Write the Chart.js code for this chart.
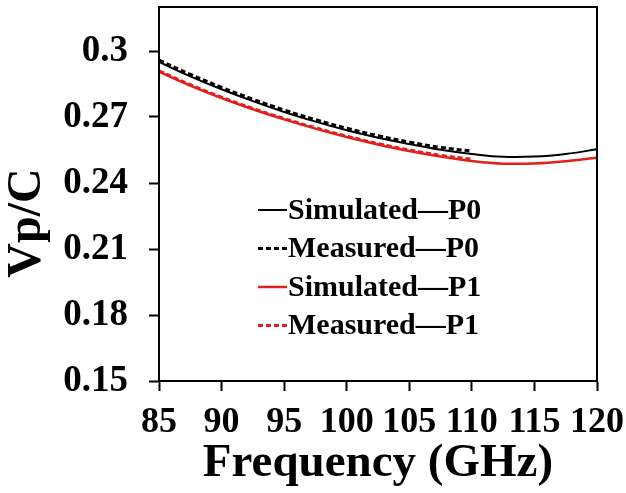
<!DOCTYPE html>
<html>
<head>
<meta charset="utf-8">
<script src="https://cdn.jsdelivr.net/npm/chart.js@4.4.1/dist/chart.umd.min.js"></script>
<style>
  html, body { margin: 0; padding: 0; background: #fff; }
  #wrap { width: 626px; height: 493px; }
</style>
</head>
<body>
<div id="wrap"><canvas id="vpChart" width="626" height="493"></canvas></div>
<script>
// Frequency points (GHz)
const freqSim = [85, 87.5, 90, 92.5, 95, 97.5, 100, 102.5, 105, 107.5, 110, 112.5, 115, 117.5, 120];
const freqMeas = [85, 87.5, 90, 92.5, 95, 97.5, 100, 102.5, 105, 107.5, 110];

// Vp/C values
const simP0 = [0.2950, 0.2885, 0.2826, 0.2772, 0.2723, 0.2679, 0.2640, 0.2606, 0.2577, 0.2551, 0.2532, 0.2519, 0.2520, 0.2532, 0.2553];
const measP0 = [0.2958, 0.2894, 0.2835, 0.2781, 0.2732, 0.2688, 0.2649, 0.2615, 0.2586, 0.2562, 0.2545];
const simP1 = [0.2906, 0.2843, 0.2786, 0.2735, 0.2689, 0.2647, 0.2609, 0.2575, 0.2545, 0.2520, 0.2500, 0.2488, 0.2489, 0.2499, 0.2515];
const measP1 = [0.2910, 0.2847, 0.2790, 0.2739, 0.2693, 0.2651, 0.2613, 0.2579, 0.2550, 0.2526, 0.2508];

// Axis ticks
const xTicks = [85, 90, 95, 100, 105, 110, 115, 120];
const yTicks = [0.15, 0.18, 0.21, 0.24, 0.27, 0.30];

const legendLabels = ['Simulated\u2014P0', 'Measured\u2014P0', 'Simulated\u2014P1', 'Measured\u2014P1'];
const yTitle = 'Vp/C';

const serif = 'Liberation Serif';

function toPoints(xs, ys) {
    return xs.map((x, i) => ({ x: x, y: ys[i] }));
}

// Box around the plot, y title (sits lower than centre) and legend inside the plot
const framePlugin = {
    id: 'frame',
    afterDraw(chart) {
        const { ctx, chartArea } = chart;
        ctx.save();
        ctx.strokeStyle = '#000';
        ctx.lineWidth = 2;
        ctx.strokeRect(chartArea.left, chartArea.top, chartArea.right - chartArea.left, chartArea.bottom - chartArea.top);

        // y axis title
        ctx.save();
        ctx.translate(28, chartArea.top + 216);
        ctx.rotate(-Math.PI / 2);
        ctx.font = 'bold 48px "' + serif + '"';
        ctx.textAlign = 'center';
        ctx.textBaseline = 'middle';
        ctx.fillStyle = '#000';
        ctx.fillText(yTitle, 0, 0);
        ctx.restore();

        // legend
        const x0 = chartArea.left + 99;
        const y0 = chartArea.top + 203;
        ctx.font = 'bold 30px "' + serif + '"';
        ctx.textBaseline = 'middle';
        ctx.textAlign = 'left';
        chart.data.datasets.forEach((ds, row) => {
            const y = y0 + row * 38.5;
            ctx.beginPath();
            ctx.strokeStyle = ds.borderColor;
            ctx.lineWidth = ds.borderWidth;
            ctx.setLineDash(ds.borderDash || []);
            ctx.moveTo(x0, y);
            ctx.lineTo(x0 + 29, y);
            ctx.stroke();
            ctx.setLineDash([]);
            ctx.fillStyle = '#000';
            ctx.fillText(ds.label, x0 + 30, y + 1);
        });
        ctx.restore();
    }
};

const ctx = document.getElementById('vpChart').getContext('2d');
new Chart(ctx, {
    type: 'line',
    data: {
        datasets: [
            {
                label: legendLabels[0],
                data: toPoints(freqSim, simP0),
                borderColor: '#000000',
                borderWidth: 2,
                order: 2
            },
            {
                label: legendLabels[1],
                data: toPoints(freqMeas, measP0),
                borderColor: '#000000',
                borderWidth: 3,
                borderDash: [5, 3],
                order: 1
            },
            {
                label: legendLabels[2],
                data: toPoints(freqSim, simP1),
                borderColor: '#e0201c',
                borderWidth: 2.5,
                order: 2
            },
            {
                label: legendLabels[3],
                data: toPoints(freqMeas, measP1),
                borderColor: '#e0201c',
                borderWidth: 3,
                borderDash: [5, 3],
                order: 0
            }
        ]
    },
    options: {
        responsive: false,
        animation: false,
        layout: { padding: { top: 7, right: 29, left: 0, bottom: 0 } },
        elements: {
            point: { radius: 0 },
            line: { tension: 0.4, fill: false }
        },
        scales: {
            x: {
                type: 'linear',
                min: 85,
                max: 120,
                afterBuildTicks: s => { s.ticks = xTicks.map(v => ({ value: v })); },
                afterFit: s => { s.height = 112; s.paddingLeft = 0; s.paddingRight = 0; },
                border: { color: '#000', width: 2 },
                grid: { drawOnChartArea: false, tickLength: 10, tickColor: '#000', tickWidth: 2 },
                ticks: {
                    color: '#000',
                    padding: 10,
                    maxRotation: 0,
                    autoSkip: false,
                    font: { family: serif, size: 36, weight: 'bold' }
                },
                title: {
                    display: true,
                    text: 'Frequency (GHz)',
                    color: '#000',
                    padding: { top: 0, bottom: 1 },
                    font: { family: serif, size: 47, weight: 'bold' }
                }
            },
            y: {
                min: 0.15,
                max: 0.32,
                afterBuildTicks: s => { s.ticks = yTicks.map(v => ({ value: v })); },
                afterFit: s => { s.width = 159; s.paddingTop = 0; s.paddingBottom = 0; },
                border: { color: '#000', width: 2 },
                grid: { drawOnChartArea: false, tickLength: 10, tickColor: '#000', tickWidth: 2 },
                ticks: {
                    color: '#000',
                    padding: 21,
                    callback: v => String(+v.toFixed(2)),
                    font: { family: serif, size: 37, weight: 'bold' }
                }
            }
        },
        plugins: {
            legend: { display: false },
            tooltip: { enabled: false }
        }
    },
    plugins: [framePlugin]
});
</script>
</body>
</html>
